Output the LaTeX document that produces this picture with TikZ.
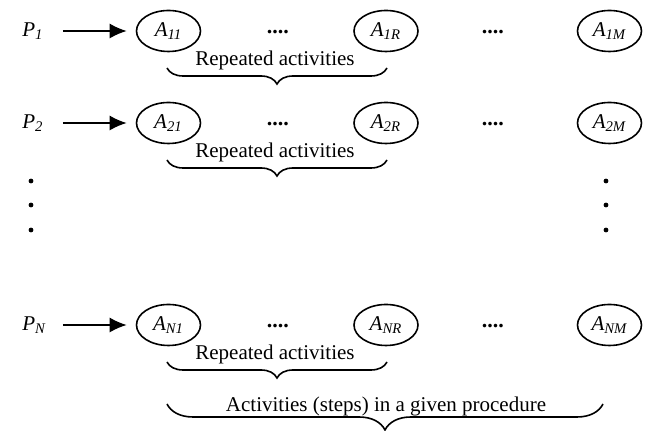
\documentclass[tikz,border=0pt]{standalone}
\usepackage{fontspec}
\setmainfont{Liberation Serif}
\usetikzlibrary{shapes.geometric,arrows.meta,decorations.pathreplacing}
\begin{document}
\begin{tikzpicture}[x=0.5pt,y=-0.5pt,
  txt/.style={font=\fontsize{10.5}{12}\selectfont, inner sep=0pt},
  act/.style={ellipse, draw, line width=0.8pt, minimum width=32pt,
    minimum height=20.5pt, inner sep=0pt, font=\fontsize{10.5}{12}\selectfont\itshape},
  proc/.style={anchor=west, inner sep=0pt, text width=20pt, align=left,
    font=\fontsize{10.5}{12}\selectfont\itshape},
  flow/.style={-{Latex[length=8.5pt,width=7.5pt]}, line width=0.8pt, shorten >=4.5pt},
  gap/.style={font=\fontsize{11}{12}\selectfont\bfseries, inner sep=0pt, anchor=base},
  rbrace/.style={decorate, decoration={brace, mirror, amplitude=#1}, line width=0.8pt},
  rbrace/.default=8pt,
  vdot/.style={circle, fill, inner sep=0pt, minimum size=2.4pt}
]
\useasboundingbox (0,0) rectangle (645,431);

% one row per procedure: start label, activities, gaps, repeated block
\foreach \r/\y in {1/31, 2/123, N/325} {
  \node[proc] (P\r) at (22,\y) {P\textsubscript{\r}};
  \node[act] (A\r1) at (168.5,\y) {A\textsubscript{\r1}};
  \node[act] (A\r R) at (386,\y) {A\textsubscript{\r R}};
  \node[act] (A\r M) at (609.5,\y) {A\textsubscript{\r M}};
  \node[gap] (g\r a) at (278,\y+3) {....};
  \node[gap] (g\r b) at (493,\y+3) {....};
  \draw[flow] (P\r) -- (A\r1);
  \draw[rbrace] (167,\y+37) -- (387,\y+37);
  \node[txt] (rep\r) at (275,\y+29) {Repeated activities};
}

% rows left out between the second and the last procedure
\foreach \i/\y in {1/181, 2/205, 3/230} {
  \node[vdot] (l\i) at (31,\y) {};
  \node[vdot] (r\i) at (606,\y) {};
}

% all activities of a procedure
\draw[rbrace=13pt] (167,404) -- (603,404);
\node[txt] (all) at (386,406) {Activities (steps) in a given procedure};
\end{tikzpicture}
\end{document}
